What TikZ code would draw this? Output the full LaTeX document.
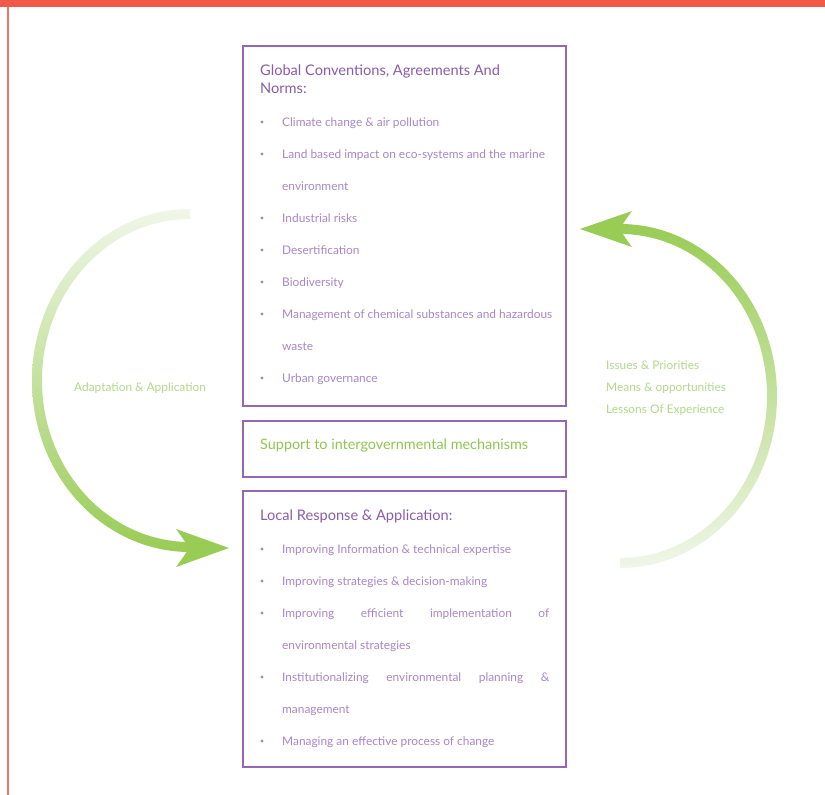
\documentclass[tikz,border=0pt]{standalone}
\usepackage{fontspec}
\setmainfont{Lato}
\definecolor{redbar}{HTML}{F15A4A}
\definecolor{boxpurple}{HTML}{9566B6}
\definecolor{titlepurple}{HTML}{8A5BAA}
\definecolor{itempurple}{HTML}{A886C6}
\definecolor{strongreen}{HTML}{99CC55}
\definecolor{palegreen}{HTML}{F0F6E8}
\definecolor{textgreen}{HTML}{8DC653}
\definecolor{labelgreen}{HTML}{B0D98A}
\tikzset{
  panel/.style={draw=boxpurple, line width=2.8pt, minimum width=323pt, inner sep=0pt},
  paneltitle/.style={anchor=base west, inner sep=0pt, text=titlepurple, font=\fontsize{14.6}{18}\selectfont},
  item/.style={anchor=base west, inner sep=0pt, text=itempurple, font=\fontsize{11.9}{13}\selectfont},
  bul/.style={fill=itempurple, circle, inner sep=0pt, minimum size=3.2pt},
  lbl/.style={anchor=base west, inner sep=0pt, text=labelgreen, font=\fontsize{11.9}{13}\selectfont},
}
\begin{document}
\begin{tikzpicture}[x=1pt, y=-1pt]
\useasboundingbox (0,0) rectangle (825,795);
% page frame
\fill[redbar] (0,0) rectangle (825,7);
\draw[redbar!85!white, line width=1.5pt] (8,7) -- (8,795);

% panels
\node[panel, minimum height=360pt] (global) at (404.5,226) {};
\node[panel, minimum height=56pt] (support) at (404.5,449) {};
\node[panel, minimum height=276pt] (local) at (404.5,629) {};

% global panel text
\node[paneltitle] (gt1) at (260,75) {Global Conventions, Agreements And};
\node[paneltitle] (gt2) at (260,93) {Norms:};
\foreach \yy in {126,158,222,254,286,318,382} {\node[bul] at (262,\yy-4) {};}
\node[item] (g1) at (282,126) {Climate change \& air pollution};
\node[item] (g2) at (282,158) {Land based impact on eco-systems and the marine};
\node[item] (g2b) at (282,190) {environment};
\node[item] (g3) at (282,222) {Industrial risks};
\node[item] (g4) at (282,254) {Desertification};
\node[item] (g5) at (282,286) {Biodiversity};
\node[item] (g6) at (282,318) {Management of chemical substances and hazardous};
\node[item] (g6b) at (282,350) {waste};
\node[item] (g7) at (282,382) {Urban governance};

% support panel
\node[paneltitle, text=textgreen, font=\fontsize{14.4}{18}\selectfont] (st) at (260,449) {Support to intergovernmental mechanisms};

% local panel
\node[paneltitle] (lt) at (260,520) {Local Response \& Application:};
\foreach \yy in {553,585,617,681,745} {\node[bul] at (262,\yy-4) {};}
\node[item] (l1) at (282,553) {Improving Information \& technical expertise};
\node[item] (l2) at (282,585) {Improving strategies \& decision-making};
\node[item] (l3) at (282,617) {\makebox[267pt][s]{Improving efficient implementation of}};
\node[item] (l3b) at (282,649) {environmental strategies};
\node[item] (l4) at (282,681) {\makebox[267pt][s]{Institutionalizing environmental planning \&}};
\node[item] (l4b) at (282,713) {management};
\node[item] (l5) at (282,745) {Managing an effective process of change};

% left arc (Adaptation & Application)
\shade[top color=palegreen, bottom color=strongreen]
  (190,209) arc[start angle=270, end angle=90, x radius=158, y radius=171.5]
  -- (190,542) arc[start angle=90, end angle=270, x radius=148, y radius=161.5] -- cycle;
\coordinate (ltip) at (229,548);
\fill[strongreen] (ltip) -- (176,529) .. controls (184,540) .. (189,548)
  .. controls (184,556) .. (176,567) -- cycle;

% right arc (Issues & Priorities ...)
\shade[top color=strongreen, bottom color=palegreen]
  (620,568) arc[start angle=90, end angle=-90, x radius=157, y radius=172]
  -- (620,234) arc[start angle=-90, end angle=90, x radius=147, y radius=162] -- cycle;
\coordinate (rtip) at (580,229);
\fill[strongreen] (rtip) -- (632,211) .. controls (624,222) .. (620,229)
  .. controls (624,236) .. (632,247) -- cycle;

% labels
\node[lbl] (adapt) at (74,391) {Adaptation \& Application};
\node[lbl] (iss) at (606,369) {Issues \& Priorities};
\node[lbl] (means) at (606,391) {Means \& opportunities};
\node[lbl] (less) at (606,413) {Lessons Of Experience};
\end{tikzpicture}
\end{document}
